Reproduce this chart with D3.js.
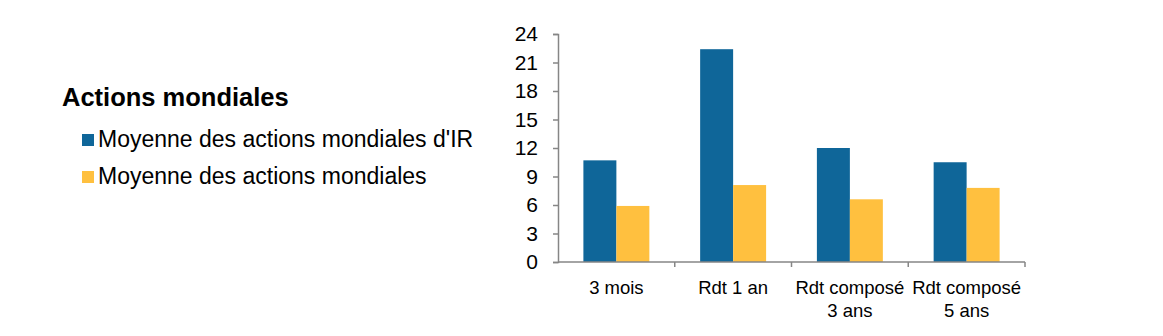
<!DOCTYPE html>
<html>
<head>
<meta charset="utf-8">
<script src="https://cdn.jsdelivr.net/npm/d3@7"></script>
<style>
  body { margin: 0; background: #fff; }
  text { font-family: "Liberation Sans", Arial, sans-serif; }
</style>
</head>
<body>
<div id="chart"></div>
<script>
// data
const categories = [["3 mois"], ["Rdt 1 an"], ["Rdt composé", "3 ans"], ["Rdt composé", "5 ans"]];
const seriesNames = ["Moyenne des actions mondiales d'IR", "Moyenne des actions mondiales"];
const irValues = [10.7, 22.4, 12.0, 10.5];
const marketValues = [5.9, 8.1, 6.6, 7.8];
const yTicks = [0, 3, 6, 9, 12, 15, 18, 21, 24];
const chartTitle = "Actions mondiales";

const colors = ["#0f6699", "#ffc03f"];
const width = 1163, height = 336;

const svg = d3.select("#chart")
    .append("svg")
    .attr("width", width)
    .attr("height", height);

const x0 = d3.scaleBand()
    .domain(d3.range(categories.length))
    .range([558, 1025])
    .paddingInner(0)
    .paddingOuter(0);

const x1 = d3.scaleBand()
    .domain([0, 1])
    .range([0, x0.bandwidth()])
    .paddingInner(0)
    .paddingOuter(0.77);

const y = d3.scaleLinear()
    .domain([0, 24])
    .range([262, 34]);

// bars
const rows = categories.map((c, i) => [irValues[i], marketValues[i]]);
const group = svg.selectAll(".cat")
    .data(rows)
    .enter()
    .append("g")
    .attr("class", "cat")
    .attr("transform", (d, i) => "translate(" + x0(i) + ",0)");

group.selectAll("rect")
    .data(d => d)
    .enter()
    .append("rect")
    .attr("x", (d, j) => x1(j))
    .attr("y", d => y(d))
    .attr("width", x1.bandwidth())
    .attr("height", d => y(0) - y(d))
    .attr("fill", (d, j) => colors[j]);

// y axis
const yAxis = svg.append("g")
    .attr("transform", "translate(558,0)")
    .call(d3.axisLeft(y).tickValues(yTicks).tickSize(5).tickPadding(15));
yAxis.select(".domain").attr("stroke", "#868686").attr("stroke-width", 1.5);
yAxis.selectAll(".tick line").attr("stroke", "#868686").attr("stroke-width", 1.5);
yAxis.selectAll(".tick text")
    .attr("font-size", 21)
    .attr("fill", "#000")
    .attr("font-family", "Liberation Sans, Arial, sans-serif");

// x axis
const xAxis = svg.append("g")
    .attr("transform", "translate(0,262)");
xAxis.append("line")
    .attr("x1", 558).attr("x2", 1025)
    .attr("y1", 0).attr("y2", 0)
    .attr("stroke", "#868686").attr("stroke-width", 1.5);
xAxis.selectAll(".xtick")
    .data(d3.range(1, categories.length + 1))
    .enter()
    .append("line")
    .attr("x1", i => i < categories.length ? x0(i) : x0(i - 1) + x0.bandwidth())
    .attr("x2", i => i < categories.length ? x0(i) : x0(i - 1) + x0.bandwidth())
    .attr("y1", 0).attr("y2", 5)
    .attr("stroke", "#868686").attr("stroke-width", 1.5);

const xLabels = xAxis.selectAll(".xlabel")
    .data(categories)
    .enter()
    .append("text")
    .attr("text-anchor", "middle")
    .attr("font-size", 18.5)
    .attr("fill", "#000");
xLabels.selectAll("tspan")
    .data((d, i) => d.map(t => ({ t: t, i: i })))
    .enter()
    .append("tspan")
    .attr("x", d => x0(d.i) + x0.bandwidth() / 2)
    .attr("y", (d, k) => 32 + k * 23)
    .text(d => d.t);

// legend
svg.append("text")
    .attr("x", 62)
    .attr("y", 106)
    .attr("font-size", 25.5)
    .attr("font-weight", "bold")
    .attr("fill", "#000")
    .text(chartTitle);

const legend = svg.selectAll(".legend")
    .data(seriesNames)
    .enter()
    .append("g")
    .attr("class", "legend")
    .attr("transform", (d, i) => "translate(82," + (147 + i * 37) + ")");

legend.append("rect")
    .attr("x", 0)
    .attr("y", -13)
    .attr("width", 12)
    .attr("height", 12)
    .attr("fill", (d, i) => colors[i]);

legend.append("text")
    .attr("x", 16)
    .attr("y", 0)
    .attr("font-size", 23)
    .attr("fill", "#000")
    .text(d => d);
</script>
</body>
</html>
